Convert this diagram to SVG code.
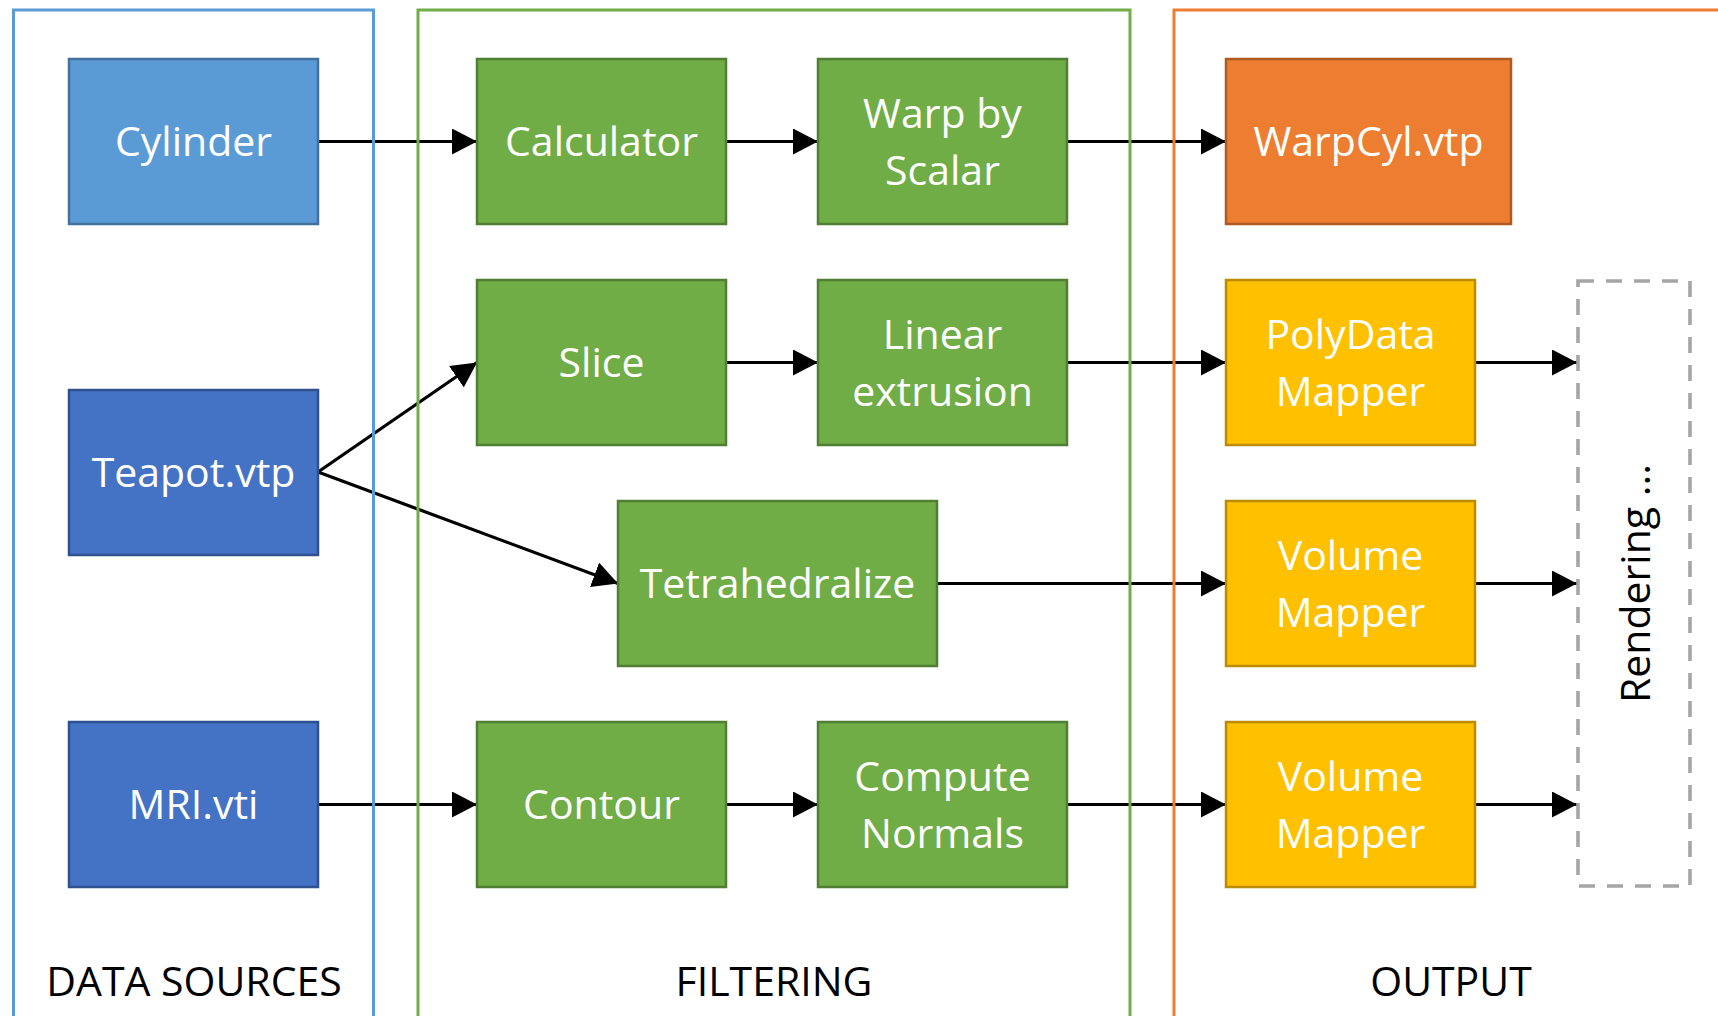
<svg xmlns="http://www.w3.org/2000/svg" width="1718" height="1016" viewBox="0 0 1718 1016">
<defs>
<marker id="ah" markerWidth="25" markerHeight="26" refX="25" refY="13" orient="auto" markerUnits="userSpaceOnUse">
<path d="M0,0 L25,13 L0,26 Z" fill="#000"/>
</marker>
<style>
text{font-family:"Open Sans","Noto Sans","Liberation Sans",sans-serif;font-size:41px;text-anchor:middle}
.w{fill:#fff}
.k{fill:#000}
.blue1{fill:#5B9BD5;stroke:#41719C;stroke-width:2.5}
.blue2{fill:#4472C4;stroke:#2F528F;stroke-width:2.5}
.green{fill:#70AD47;stroke:#507E32;stroke-width:2.5}
.orange{fill:#ED7D31;stroke:#AE5A21;stroke-width:2.5}
.yellow{fill:#FFC000;stroke:#BC8C00;stroke-width:2.5}
.cont{fill:none;stroke-width:3}
.conn line{stroke:#000;stroke-width:3.2;marker-end:url(#ah)}
.dash{fill:none;stroke:#A5A5A5;stroke-width:3.6;stroke-dasharray:16 12}
</style>
</defs>
<rect width="1718" height="1016" fill="#fff"/>

<g id="connectors" class="conn">
<line x1="318" y1="141.5" x2="477" y2="141.5"/>
<line x1="726" y1="141.5" x2="818" y2="141.5"/>
<line x1="1067" y1="141.5" x2="1226" y2="141.5"/>
<line x1="318" y1="472" x2="477" y2="362.5"/>
<line x1="318" y1="472" x2="618" y2="583.5"/>
<line x1="726" y1="362.5" x2="818" y2="362.5"/>
<line x1="1067" y1="362.5" x2="1226" y2="362.5"/>
<line x1="937" y1="583.5" x2="1226" y2="583.5"/>
<line x1="318" y1="804.5" x2="477" y2="804.5"/>
<line x1="726" y1="804.5" x2="818" y2="804.5"/>
<line x1="1067" y1="804.5" x2="1226" y2="804.5"/>
<line x1="1475" y1="362.5" x2="1577" y2="362.5"/>
<line x1="1475" y1="583.5" x2="1577" y2="583.5"/>
<line x1="1475" y1="804.5" x2="1577" y2="804.5"/>
</g>

<g id="data-sources">
<rect class="cont" x="13.5" y="10" width="360" height="1030" stroke="#5B9BD5"/>
<text class="k" x="194" y="996">DATA SOURCES</text>
</g>
<g id="filtering">
<rect class="cont" x="418" y="10" width="712" height="1030" stroke="#70AD47"/>
<text class="k" x="774" y="996">FILTERING</text>
</g>
<g id="output">
<rect class="cont" x="1174" y="10" width="600" height="1030" stroke="#ED7D31"/>
<text class="k" x="1451" y="996">OUTPUT</text>
</g>

<g id="cylinder"><rect class="blue1" x="69" y="59" width="249" height="165"/><text class="w" x="193.5" y="156">Cylinder</text></g>
<g id="teapot"><rect class="blue2" x="69" y="390" width="249" height="165"/><text class="w" x="193.5" y="487">Teapot.vtp</text></g>
<g id="mri"><rect class="blue2" x="69" y="722" width="249" height="165"/><text class="w" x="193.5" y="819">MRI.vti</text></g>

<g id="calculator"><rect class="green" x="477" y="59" width="249" height="165"/><text class="w" x="601.5" y="156">Calculator</text></g>
<g id="warp"><rect class="green" x="818" y="59" width="249" height="165"/><text class="w" x="942.5" y="127.5">Warp by</text><text class="w" x="942.5" y="184.5">Scalar</text></g>
<g id="slice"><rect class="green" x="477" y="280" width="249" height="165"/><text class="w" x="601.5" y="377">Slice</text></g>
<g id="linear"><rect class="green" x="818" y="280" width="249" height="165"/><text class="w" x="942.5" y="348.5">Linear</text><text class="w" x="942.5" y="405.5">extrusion</text></g>
<g id="tetra"><rect class="green" x="618" y="501" width="319" height="165"/><text class="w" x="777.5" y="598">Tetrahedralize</text></g>
<g id="contour"><rect class="green" x="477" y="722" width="249" height="165"/><text class="w" x="601.5" y="819">Contour</text></g>
<g id="normals"><rect class="green" x="818" y="722" width="249" height="165"/><text class="w" x="942.5" y="790.5">Compute</text><text class="w" x="942.5" y="847.5">Normals</text></g>

<g id="warpcyl"><rect class="orange" x="1226" y="59" width="285" height="165"/><text class="w" x="1368.5" y="156">WarpCyl.vtp</text></g>
<g id="polydata"><rect class="yellow" x="1226" y="280" width="249" height="165"/><text class="w" x="1350.5" y="348.5">PolyData</text><text class="w" x="1350.5" y="405.5">Mapper</text></g>
<g id="volume1"><rect class="yellow" x="1226" y="501" width="249" height="165"/><text class="w" x="1350.5" y="569.5">Volume</text><text class="w" x="1350.5" y="626.5">Mapper</text></g>
<g id="volume2"><rect class="yellow" x="1226" y="722" width="249" height="165"/><text class="w" x="1350.5" y="790.5">Volume</text><text class="w" x="1350.5" y="847.5">Mapper</text></g>

<g id="rendering">
<rect class="dash" x="1578" y="281" width="112" height="605"/>
<text class="k" transform="translate(1650,583.5) rotate(-90)" x="0" y="0">Rendering ...</text>
</g>
</svg>
